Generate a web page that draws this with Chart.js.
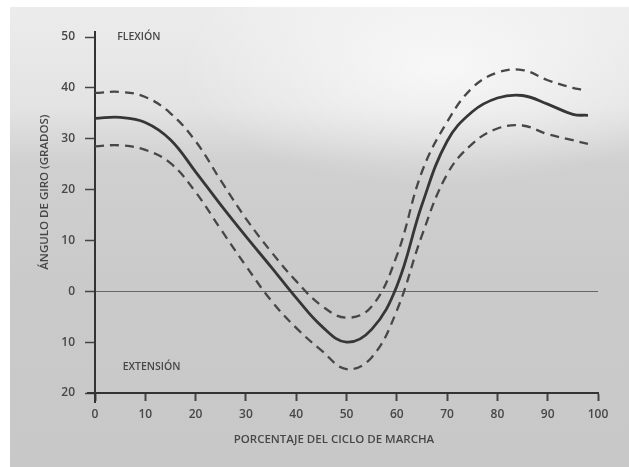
<!DOCTYPE html>
<html>
<head>
<meta charset="utf-8">
<script src="https://cdn.jsdelivr.net/npm/chart.js@4/dist/chart.umd.min.js"></script>
<style>
  html, body { margin: 0; padding: 0; background: #ffffff; }
  #wrap { position: relative; width: 629px; height: 467px; overflow: hidden; }
  #paper { position: absolute; left: 10px; top: 7px; right: 0; bottom: 0;
    background:
      radial-gradient(ellipse 260px 120px at 430px 60px, rgba(255,255,255,0.7), rgba(255,255,255,0) 100%),
      linear-gradient(to bottom, #ececec 0%, #e3e3e3 22%, #d0d0d0 34%, #cacaca 60%, #c8c8c8 100%); }
  canvas { position: absolute; left: 0; top: 0; }
</style>
</head>
<body>
<div id="wrap">
  <div id="paper"></div>
  <canvas id="c" width="629" height="467"></canvas>
</div>
<script>
// ---- data ----
const xTickValues = [0, 10, 20, 30, 40, 50, 60, 70, 80, 90, 100];
const yTickValues = [-20, -10, 0, 10, 20, 30, 40, 50];

const meanPct = [0, 5, 10, 15, 20, 25, 30, 35, 40, 45, 50, 55, 60, 65, 70, 75, 80, 85, 90, 95, 98];
const meanDeg = [34, 34.2, 33.2, 29.8, 23.5, 17, 10.8, 4.8, -1.3, -6.8, -10, -7.5, 1, 17, 29.5, 35.3, 38, 38.5, 36.8, 34.8, 34.6];

const upperPct = [0, 5, 10, 15, 20, 25, 30, 35, 40, 45, 50, 55, 60, 65, 70, 75, 80, 85, 90, 95, 97];
const upperDeg = [39, 39.2, 38.2, 35, 29.5, 21.8, 14.3, 7.8, 2, -2.8, -5.2, -3, 7, 23.5, 33.3, 40, 43, 43.5, 41.5, 40, 39.6];

const lowerPct = [0, 5, 10, 15, 20, 25, 30, 35, 40, 45, 50, 55, 60, 65, 70, 75, 80, 85, 90, 95, 98];
const lowerDeg = [28.5, 28.7, 27.8, 25.2, 19.5, 12.2, 5, -1.8, -7.2, -11.6, -15.3, -13, -3.8, 11, 23, 29, 32, 32.6, 30.9, 29.7, 29];

const yAxisTitle = 'ÁNGULO DE GIRO (GRADOS)';
const xAxisTitle = 'PORCENTAJE DEL CICLO DE MARCHA';
const upperNote = 'FLEXIÓN';
const lowerNote = 'EXTENSIÓN';

// ---- chart ----
const toPoints = (xs, ys) => xs.map((x, i) => ({ x: x, y: ys[i] }));
const inkDark = '#363636';
const inkText = '#474747';
const fontFamily = '"Open Sans", "DejaVu Sans", sans-serif';

const annotations = {
  id: 'annotations',
  afterDraw(chart) {
    const { ctx, chartArea: a, scales: { x, y } } = chart;
    ctx.save();
    ctx.strokeStyle = '#333';
    ctx.lineWidth = 2;
    ctx.beginPath();
    ctx.moveTo(a.left, a.top - 6); ctx.lineTo(a.left, a.top);
    ctx.moveTo(a.left, a.bottom); ctx.lineTo(a.left, a.bottom + 10);
    ctx.moveTo(a.left - 8, a.bottom); ctx.lineTo(a.left, a.bottom);
    ctx.stroke();
    ctx.fillStyle = inkText;
    ctx.font = '600 10.5px ' + fontFamily;
    ctx.textBaseline = 'middle';
    ctx.textAlign = 'left';
    ctx.fillText(upperNote, x.getPixelForValue(4.4), y.getPixelForValue(50));
    ctx.fillText(lowerNote, x.getPixelForValue(5.5), y.getPixelForValue(-14.8));
    ctx.font = '600 11.5px ' + fontFamily;
    ctx.textAlign = 'center';
    ctx.fillText(xAxisTitle, x.getPixelForValue(47.5), 440);
    ctx.translate(45, y.getPixelForValue(19.5));
    ctx.rotate(-Math.PI / 2);
    ctx.fillText(yAxisTitle, 0, 0);
    ctx.restore();
  }
};

const lineCommon = { pointRadius: 0, tension: 0.4, fill: false };

new Chart(document.getElementById('c'), {
  type: 'line',
  data: {
    datasets: [
      Object.assign({ data: toPoints(meanPct, meanDeg), borderColor: inkDark, borderWidth: 2.8 }, lineCommon),
      Object.assign({ data: toPoints(upperPct, upperDeg), borderColor: '#474747', borderWidth: 2.3,
        borderDash: [9, 6] }, lineCommon),
      Object.assign({ data: toPoints(lowerPct, lowerDeg), borderColor: '#474747', borderWidth: 2.3,
        borderDash: [9, 6] }, lineCommon)
    ]
  },
  options: {
    responsive: false,
    animation: false,
    layout: { padding: { top: 37, right: 31, bottom: 0, left: 0 } },
    plugins: { legend: { display: false }, tooltip: { enabled: false } },
    scales: {
      x: {
        type: 'linear', min: 0, max: 100,
        afterBuildTicks: s => { s.ticks = xTickValues.map(v => ({ value: v })); },
        ticks: { color: inkText, font: { family: fontFamily, size: 12, weight: '600' }, padding: 6, maxRotation: 0 },
        grid: { drawOnChartArea: false, drawTicks: true, tickLength: 8, tickColor: '#444', tickWidth: 2 },
        border: { display: true, color: '#333', width: 2 },
        afterFit: s => { s.height = 467 - 393; }
      },
      y: {
        type: 'linear', min: -20, max: 50,
        afterBuildTicks: s => { s.ticks = yTickValues.map(v => ({ value: v })); },
        ticks: { color: inkText, font: { family: fontFamily, size: 12, weight: '600' }, padding: 10,
                 callback: v => String(Math.abs(v)) },
        grid: { drawOnChartArea: true, drawTicks: true, tickLength: 10,
                color: c => (c.tick && c.tick.value === 0) ? '#666' : 'rgba(0,0,0,0)',
                lineWidth: 1, tickColor: '#444', tickWidth: 1.5 },
        border: { display: true, color: '#333', width: 2 },
        afterFit: s => { s.width = 95; }
      }
    }
  },
  plugins: [annotations]
});
</script>
</body>
</html>
